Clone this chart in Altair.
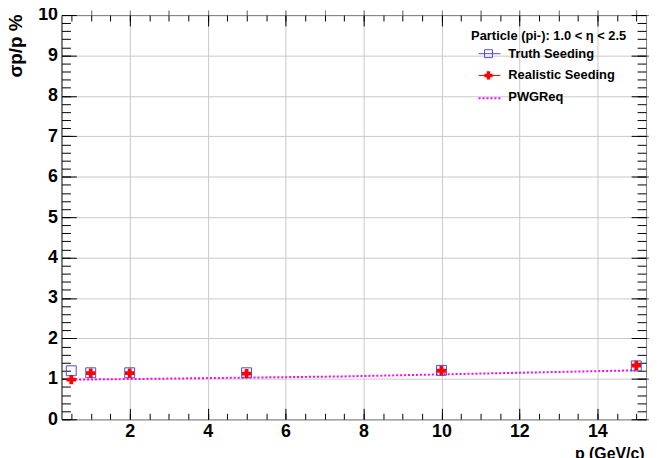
import altair as alt
import pandas as pd

# ---- data ----
p_vals = [0.5, 1, 2, 5, 10, 15]
truth_vals = [1.20, 1.15, 1.15, 1.15, 1.21, 1.32]
real_vals = [0.98, 1.14, 1.14, 1.13, 1.20, 1.33]
pwg_p = [0.5, 2.5, 5, 7.5, 10, 12.5, 15]
pwg_vals = [0.98, 1.00, 1.03, 1.06, 1.11, 1.16, 1.21]

x_major = [2, 4, 6, 8, 10, 12, 14]
x_minor = [v / 2 for v in range(1, 31)]
y_major = list(range(0, 11))
y_minor = [round(v * 0.2, 1) for v in range(0, 51)]

legend_header = "Particle (pi-): 1.0 < η < 2.5"
legend_labels = ["Truth Seeding", "Realistic Seeding", "PWGReq"]

W, H = 590, 408
FONT = "Liberation Sans"

df_truth = pd.DataFrame({"p": p_vals, "v": truth_vals})
df_real = pd.DataFrame({"p": p_vals, "v": real_vals})
df_pwg = pd.DataFrame({"p": pwg_p, "v": pwg_vals})

xs = alt.Scale(domain=[0.25, 15.25], nice=False, zero=False)
ys = alt.Scale(domain=[0, 10], nice=False, zero=False)

grid_col = "#c8c8c8"

main_x_axis = alt.Axis(values=x_major, ticks=False, domain=False, grid=True,
                       gridColor=grid_col, gridWidth=1,
                       labelFont=FONT, labelFontSize=18, labelFontWeight="bold",
                       labelColor="black", labelPadding=3,
                       title="p (GeV/c)", titleFont=FONT, titleFontSize=16,
                       titleFontWeight="bold", titleColor="black",
                       titleAnchor="end", titleAlign="right", titleX=W - 2,
                       titleY=40, titleBaseline="alphabetic")
main_y_axis = alt.Axis(values=y_major, ticks=False, domain=False, grid=True,
                       gridColor=grid_col, gridWidth=1,
                       labelFont=FONT, labelFontSize=18, labelFontWeight="bold",
                       labelColor="black", labelPadding=4,
                       title="σp/p %", titleFont=FONT, titleFontSize=19,
                       titleFontWeight="bold", titleColor="black",
                       titleAngle=-90, titleAlign="right", titleBaseline="middle",
                       titleX=-46, titleY=-1)

pwg_line = alt.Chart(df_pwg).mark_line(color="#ff00ff", strokeWidth=2,
                                       strokeDash=[2, 2]).encode(
    x=alt.X("p:Q", scale=xs, axis=main_x_axis),
    y=alt.Y("v:Q", scale=ys, axis=main_y_axis),
)

truth_pts = alt.Chart(df_truth).mark_point(shape="square", filled=False,
                                           color="#4a4ad8", size=100,
                                           strokeWidth=1, opacity=1).encode(
    x=alt.X("p:Q", scale=xs), y=alt.Y("v:Q", scale=ys))

real_pts = alt.Chart(df_real).mark_point(shape="cross", filled=True,
                                         color="#ff0000", size=90,
                                         opacity=1).encode(
    x=alt.X("p:Q", scale=xs), y=alt.Y("v:Q", scale=ys))


def xticks(orient, values, size):
    return alt.Chart(df_truth).mark_point(opacity=0).encode(
        x=alt.X("p:Q", scale=xs, axis=alt.Axis(
            orient=orient, offset=-H, values=values, tickSize=size,
            tickColor="black", tickWidth=1, labels=False, domain=False,
            grid=False, title=None)),
        y=alt.Y("v:Q", scale=ys, axis=None))


def yticks(orient, values, size):
    return alt.Chart(df_truth).mark_point(opacity=0).encode(
        x=alt.X("p:Q", scale=xs, axis=None),
        y=alt.Y("v:Q", scale=ys, axis=alt.Axis(
            orient=orient, offset=-W, values=values, tickSize=size,
            tickColor="black", tickWidth=1, labels=False, domain=False,
            grid=False, title=None)))


tick_layers = [
    xticks("top", x_major, 11), xticks("top", x_minor, 6),
    xticks("bottom", x_major, 11), xticks("bottom", x_minor, 6),
    yticks("right", y_major, 15), yticks("right", y_minor, 9),
    yticks("left", y_major, 15), yticks("left", y_minor, 9),
]

one = pd.DataFrame({"t": [legend_header]})
leg_header = alt.Chart(one).mark_text(font=FONT, fontSize=13, fontWeight="bold",
                                      align="right", baseline="alphabetic",
                                      color="black").encode(
    x=alt.value(570), y=alt.value(25), text="t:N")

leg_texts = []
leg_y = [43, 65, 87]
for lab, yy in zip(legend_labels, leg_y):
    leg_texts.append(alt.Chart(pd.DataFrame({"t": [lab]})).mark_text(
        font=FONT, fontSize=13, fontWeight="bold", align="left",
        baseline="alphabetic", color="black").encode(
        x=alt.value(451), y=alt.value(yy), text="t:N"))

leg_line1 = alt.Chart(one).mark_rule(color="#4a4ad8", strokeWidth=1).encode(
    x=alt.value(421), x2=alt.value(443), y=alt.value(39))
leg_mark1 = alt.Chart(one).mark_point(shape="square", filled=False,
                                      color="#4a4ad8", size=64, opacity=1,
                                      strokeWidth=1).encode(
    x=alt.value(431), y=alt.value(39))
leg_line2 = alt.Chart(one).mark_rule(color="#ff0000", strokeWidth=1).encode(
    x=alt.value(421), x2=alt.value(443), y=alt.value(61))
leg_mark2 = alt.Chart(one).mark_point(shape="cross", filled=True,
                                      color="#ff0000", size=70,
                                      opacity=1).encode(
    x=alt.value(431), y=alt.value(61))
leg_line3 = alt.Chart(one).mark_rule(color="#ff00ff", strokeWidth=2,
                                     strokeDash=[2, 2]).encode(
    x=alt.value(421), x2=alt.value(443), y=alt.value(84))

chart = alt.layer(
    pwg_line, truth_pts, real_pts, *tick_layers,
    leg_header, *leg_texts, leg_line1, leg_mark1, leg_line2, leg_mark2, leg_line3,
).resolve_axis(x="independent", y="independent").properties(
    width=W, height=H,
    autosize=alt.AutoSizeParams(type="none"),
    padding={"left": 54, "top": 5, "right": 3, "bottom": 37},
    background="white",
).configure_view(stroke="black", strokeWidth=1)

chart.save("out.html", embed_options={"renderer": "svg", "actions": False})
